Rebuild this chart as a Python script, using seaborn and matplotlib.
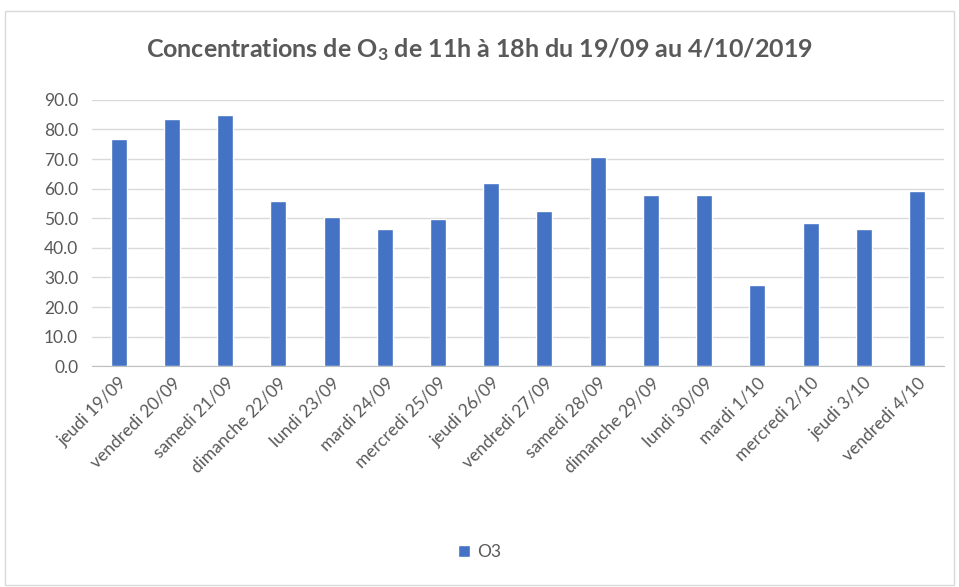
import numpy as np
import pandas as pd
import seaborn as sns
import matplotlib.pyplot as plt
from matplotlib.patches import Rectangle

days = ['jeudi 19/09', 'vendredi 20/09', 'samedi 21/09', 'dimanche 22/09',
        'lundi 23/09', 'mardi 24/09', 'mercredi 25/09', 'jeudi 26/09',
        'vendredi 27/09', 'samedi 28/09', 'dimanche 29/09', 'lundi 30/09',
        'mardi 1/10', 'mercredi 2/10', 'jeudi 3/10', 'vendredi 4/10']
o3 = [76.7, 83.5, 84.9, 55.7, 50.3, 46.2, 49.7, 61.8,
      52.3, 70.6, 57.7, 57.7, 27.3, 48.3, 46.2, 59.2]

data = pd.DataFrame({'jour': days, 'O3': o3})

sns.set_style('white')
plt.rcParams['font.family'] = ['Lato', 'DejaVu Sans']
plt.rcParams['mathtext.fontset'] = 'custom'
plt.rcParams['mathtext.rm'] = 'Lato:bold'
plt.rcParams['mathtext.default'] = 'rm'
text_color = '#595959'

fig = plt.figure(figsize=(9.59, 5.87), dpi=100)
ax = fig.add_axes([0.096, 0.376, 0.888, 0.454])

sns.barplot(data=data, x='jour', y='O3', color='#4472C4', width=0.3,
            saturation=1, ax=ax, label='O3', zorder=3)

ax.set_ylim(0, 90)
ax.set_xlim(-0.5, len(days) - 0.5)
ax.set_yticks(np.arange(0, 91, 10))
ax.set_yticklabels([f'{v:.1f}' for v in np.arange(0, 91, 10)],
                   fontsize=12.5, color=text_color)
ax.set_xticks(range(len(days)))
ax.set_xticklabels(days, rotation=45, ha='right', rotation_mode='anchor',
                   fontsize=12.5, color=text_color)
ax.tick_params(axis='x', which='major', length=0, pad=6)
ax.tick_params(axis='y', length=0, pad=10)
ax.set_xticks(np.arange(-0.5, len(days)), minor=True)
ax.tick_params(axis='x', which='minor', length=5, color='#BFBFBF', width=1)
ax.set_xlabel('')
ax.set_ylabel('')

ax.yaxis.grid(True, color='#D9D9D9', linewidth=1, zorder=0)
for s in ['top', 'right', 'left']:
    ax.spines[s].set_visible(False)
ax.spines['bottom'].set_color('#BFBFBF')

fig.text(0.5, 0.915, 'Concentrations de O$_3$ de 11h à 18h du 19/09 au 4/10/2019',
         ha='center', va='center', fontsize=18, fontweight='bold', color=text_color)

ax.legend(loc='center', frameon=False, fontsize=12.5,
          labelcolor=text_color, handlelength=0.7, handleheight=0.7,
          handletextpad=0.4)
ax.get_legend().set_bbox_to_anchor((0.5, 0.06), transform=fig.transFigure)

fig.patches.append(Rectangle((0.005, 0.004), 0.99, 0.977, transform=fig.transFigure,
                             fill=False, edgecolor='#D9D9D9', linewidth=1))

fig.savefig('out.png', dpi=100, facecolor='white')
